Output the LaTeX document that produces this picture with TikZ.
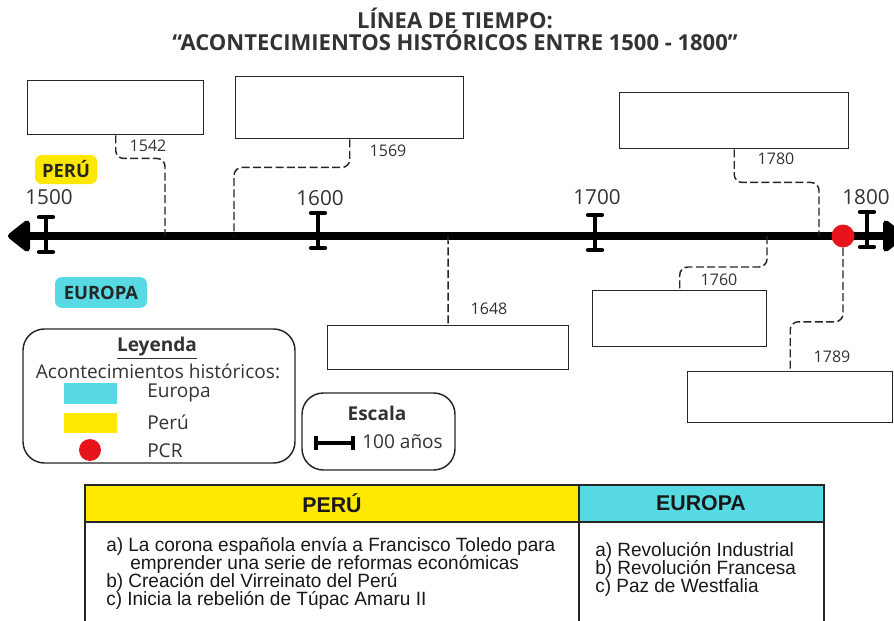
\documentclass[tikz,border=0pt]{standalone}
\usepackage{fontspec}
\setmainfont{Open Sans}
\newfontfamily\tabfont[FakeStretch=0.99]{Liberation Sans}
\newfontfamily\headfont{Liberation Sans}
\usetikzlibrary{arrows.meta}
\definecolor{ink}{HTML}{333333}
\definecolor{peruY}{HTML}{FFE800}
\definecolor{euroC}{HTML}{58DAE4}
\definecolor{pcrR}{HTML}{E8141C}
\begin{document}
\begin{tikzpicture}[x=0.75pt,y=-0.75pt,
  evbox/.style={draw=black!85,line width=1.1pt,anchor=north west,inner sep=0pt},
  conn/.style={draw=black!85,line width=1.1pt,dash pattern=on 6pt off 2.5pt,rounded corners=6pt},
  yearlbl/.style={text=ink,font=\fontsize{15.5}{18}\selectfont},
  evlbl/.style={text=ink,font=\fontsize{12}{14}\selectfont},
  tickI/.style={line width=3.2pt,line cap=round},
  badge/.style={rounded corners=5pt,font=\bfseries\fontsize{13.8}{16}\selectfont,text=black!85,inner sep=0pt},
  legtxt/.style={text=ink,font=\fontsize{14.3}{17}\selectfont},
  rbox/.style={draw=black!85,line width=1.1pt,rounded corners=16pt},
  tabline/.style={draw=black!85,line width=1.1pt},
  tabtxt/.style={font=\tabfont\fontsize{14.4}{15}\selectfont,text=black!90,inner sep=0pt,anchor=base west},
  tabhead/.style={font=\headfont\bfseries\fontsize{16}{18}\selectfont,text=black!90}
]
\useasboundingbox (0,0) rectangle (894,621);
\fill[white] (0,0) rectangle (894,621);

% title
\node[text=ink,font=\bfseries\fontsize{16.5}{16.5}\selectfont,align=center] (title) at (455,29)
  {LÍNEA DE TIEMPO:\\“ACONTECIMIENTOS HISTÓRICOS ENTRE 1500 - 1800”};

% timeline
\coordinate (tl) at (8,236);
\coordinate (tr) at (905,236);
\draw[line width=6pt,{Triangle[length=18pt,width=27pt,round]}-{Triangle[length=18pt,width=27pt,round]}] (tl) -- (tr);

% ticks
\foreach \x/\t in {46/217,318/213,595/215,867/212}{
  \draw[tickI] (\x,\t) -- (\x,\t+35);
  \draw[tickI] (\x-7,\t) -- (\x+7,\t);
  \draw[tickI] (\x-7,\t+35) -- (\x+7,\t+35);
}
\node[yearlbl] (y1500) at (49,197) {1500};
\node[yearlbl] (y1600) at (320,198) {1600};
\node[yearlbl] (y1700) at (597,197) {1700};
\node[yearlbl] (y1800) at (866,197) {1800};

% badges
\node[badge,fill=peruY,minimum width=46.5pt,minimum height=21.75pt] (peru) at (66,169.5) {PERÚ};
\node[badge,fill=euroC,minimum width=69pt,minimum height=23pt] (europa) at (101,292.5) {EUROPA};

% timeline anchor points
\coordinate (t1542) at (165,236);
\coordinate (t1569) at (234,236);
\coordinate (t1780) at (819,236);
\coordinate (t1648) at (448,236);
\coordinate (t1760) at (767,236);

% PCR dot
\node[circle,fill=pcrR,minimum size=17.25pt,inner sep=0pt] (pcr) at (843,236) {};

% boxes
\node[evbox,minimum width=132pt,minimum height=40.5pt] (b1542) at (27,80) {};
\node[evbox,minimum width=171pt,minimum height=46.5pt] (b1569) at (235,76) {};
\node[evbox,minimum width=171.75pt,minimum height=42pt] (b1780) at (619,92) {};
\node[evbox,minimum width=180.75pt,minimum height=33pt] (b1648) at (327,325) {};
\node[evbox,minimum width=130.5pt,minimum height=42pt] (b1760) at (592,290) {};
\node[evbox,minimum width=153.75pt,minimum height=38.25pt] (b1789) at (687,371) {};

% connectors
\draw[conn] (b1542.south) -- ++(0,23) -| (t1542);
\draw[conn] (b1569.south) -- ++(0,28) -| (t1569);
\draw[conn] (b1780.south) -- ++(0,33) -| (t1780);
\draw[conn] (t1648) -- (b1648.north);
\draw[conn] (t1760) -- ++(0,31) -| (b1760.north);
\draw[conn] (pcr.south) -- ++(0,74) -| (b1789.north);

% connector labels
\node[evlbl] (l1542) at (148,146) {1542};
\node[evlbl] (l1569) at (388,151) {1569};
\node[evlbl] (l1780) at (776,159) {1780};
\node[evlbl] (l1648) at (489,309) {1648};
\node[evlbl] (l1760) at (719,280) {1760};
\node[evlbl] (l1789) at (832,357) {1789};

% legend
\draw[rbox] (23,329) rectangle (295,463);
\node[text=ink,font=\bfseries\fontsize{14.3}{17}\selectfont] (leyenda) at (157,348) {\underline{Leyenda}};
\node[legtxt] (acont) at (158,371) {Acontecimientos históricos:};
\fill[euroC] (64,383) rectangle (117,404);
\fill[peruY] (64,413) rectangle (117,433);
\node[circle,fill=pcrR,minimum size=16.5pt,inner sep=0pt] (legdot) at (90,450) {};
\node[legtxt,anchor=west,inner sep=0pt] (lEu) at (147,393) {Europa};
\node[legtxt,anchor=west,inner sep=0pt] (lPe) at (147,422) {Perú};
\node[legtxt,anchor=west,inner sep=0pt] (lPc) at (147,451) {PCR};

% scale
\draw[rbox] (302,393) rectangle (455,470);
\node[text=ink,font=\bfseries\fontsize{14.3}{17}\selectfont] (escala) at (377,413) {Escala};
\draw[line width=2.8pt] (316,443) -- (353,443);
\draw[line width=2.8pt] (316,436) -- (316,450);
\draw[line width=2.8pt] (353,436) -- (353,450);
\node[legtxt,anchor=west,inner sep=0pt] (cien) at (362,442) {100 años};

% table
\fill[peruY] (85,485) rectangle (579,522);
\fill[euroC] (579,485) rectangle (824,522);
\draw[tabline] (85,630) -- (85,485) -- (824,485) -- (824,630);
\draw[tabline] (579,485) -- (579,630);
\draw[tabline] (85,522) -- (824,522);
\node[tabhead] (hPe) at (332,503.5) {PERÚ};
\node[tabhead] (hEu) at (701,503.5) {EUROPA};
\node[tabtxt] (p1) at (106,551) {a) La corona española envía a Francisco Toledo para};
\node[tabtxt] (p2) at (130,569) {emprender una serie de reformas económicas};
\node[tabtxt] (p3) at (106,587) {b) Creación del Virreinato del Perú};
\node[tabtxt] (p4) at (106,605) {c) Inicia la rebelión de Túpac Amaru II};
\node[tabtxt] (e1) at (595,556) {a) Revolución Industrial};
\node[tabtxt] (e2) at (595,574) {b) Revolución Francesa};
\node[tabtxt] (e3) at (595,592) {c) Paz de Westfalia};
\end{tikzpicture}
\end{document}
